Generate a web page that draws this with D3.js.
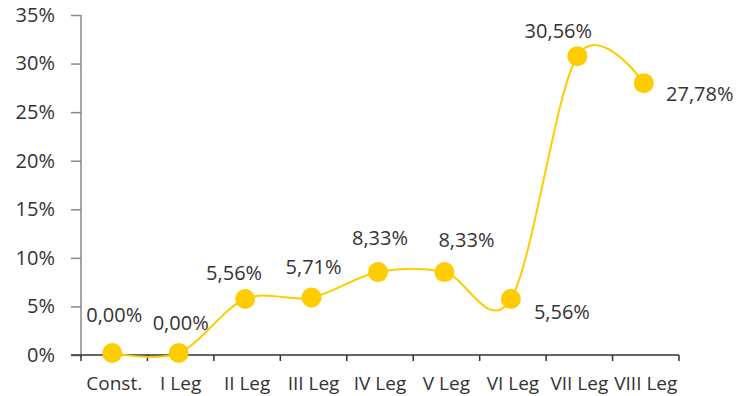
<!DOCTYPE html>
<html>
<head>
<meta charset="utf-8">
<script src="https://cdn.jsdelivr.net/npm/d3@7"></script>
<style>
  html, body { margin: 0; padding: 0; background: #fff; }
  svg { display: block; }
  text { font-family: "Open Sans", sans-serif; fill: #333; }
</style>
</head>
<body>
<svg id="chart" width="736" height="396"></svg>
<script>
// Share per legislature
const categories = ["Const.", "I Leg", "II Leg", "III Leg", "IV Leg", "V Leg", "VI Leg", "VII Leg", "VIII Leg"];
const values = [0.00, 0.00, 5.56, 5.71, 8.33, 8.33, 5.56, 30.56, 27.78];
const labels = ["0,00%", "0,00%", "5,56%", "5,71%", "8,33%", "8,33%", "5,56%", "30,56%", "27,78%"];
const yTicks = [0, 5, 10, 15, 20, 25, 30, 35];
const yTickLabels = ["0%", "5%", "10%", "15%", "20%", "25%", "30%", "35%"];

// Placement of each value label relative to its point
const labelOffsets = [
  [0, -33], [0, -25], [-13, -21], [0, -26], [0, -29],
  [20, -27], [49, 18], [-21, -20], [54, 16]
];

const FONT = "Open Sans";
const FS = 20;
const FS_CAT = 19;

const svg = d3.select("#chart");
const plot = { left: 81, right: 679, top: 15, bottom: 355 };

const x = d3.scaleBand().domain(categories).range([plot.left, plot.right]);
const y = d3.scaleLinear().domain([0, 35]).range([plot.bottom, plot.top]);
const cx = d => x(d) + x.bandwidth() / 2;

// Y axis
const yAxis = svg.append("g")
  .attr("transform", `translate(${plot.left},0)`)
  .call(d3.axisLeft(y).tickValues(yTicks)
    .tickFormat((d, i) => yTickLabels[i]).tickSize(10).tickPadding(16));
yAxis.select(".domain").attr("stroke", "#888").attr("stroke-width", 1.5)
  .attr("d", `M0,${plot.top}V${plot.bottom + 2}`);
yAxis.selectAll(".tick line").attr("stroke", "#888").attr("stroke-width", 1.5);
yAxis.selectAll(".tick text").attr("font-size", FS).attr("fill", "#333")
  .attr("font-family", FONT);

// X axis with ticks at category boundaries
const xAxisG = svg.append("g").attr("transform", `translate(0,${plot.bottom})`);
xAxisG.append("line").attr("x1", plot.left - 10).attr("x2", plot.right)
  .attr("stroke", "#333").attr("stroke-width", 1.5);
const bounds = categories.map(c => x(c)).concat([plot.right]);
xAxisG.selectAll("line.tk").data(bounds).join("line").attr("class", "tk")
  .attr("x1", d => d).attr("x2", d => d).attr("y1", 0).attr("y2", 6)
  .attr("stroke", "#333").attr("stroke-width", 1.5);
xAxisG.selectAll("text").data(categories).join("text")
  .attr("x", d => cx(d)).attr("y", 35)
  .attr("text-anchor", "middle").attr("font-size", FS_CAT).text(d => d);

// Smoothed series line with markers
const series = svg.append("g").attr("transform", "translate(-2,-2)");
const line = d3.line()
  .x((d, i) => cx(categories[i]))
  .y(d => y(d))
  .curve(d3.curveCardinal.tension(0));
series.append("path").datum(values)
  .attr("d", line).attr("fill", "none")
  .attr("stroke", "#FFCC00").attr("stroke-width", 2);
series.selectAll("circle").data(values).join("circle")
  .attr("cx", (d, i) => cx(categories[i])).attr("cy", d => y(d))
  .attr("r", 10).attr("fill", "#FFCC00");

// Value labels
svg.append("g").selectAll("text").data(values).join("text")
  .attr("x", (d, i) => cx(categories[i]) + labelOffsets[i][0])
  .attr("y", (d, i) => y(d) + labelOffsets[i][1])
  .attr("text-anchor", "middle").attr("font-size", FS)
  .text((d, i) => labels[i]);
</script>
</body>
</html>
